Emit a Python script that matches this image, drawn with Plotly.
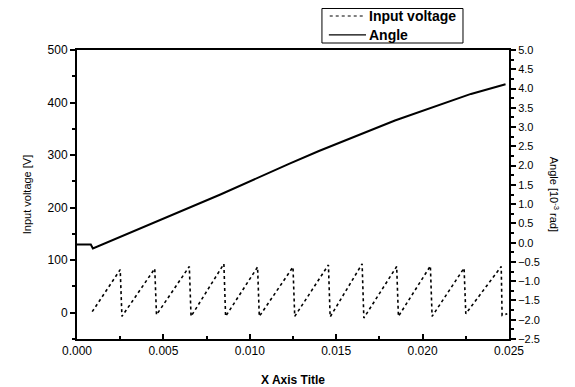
import plotly.graph_objects as go

# Input voltage (dotted sawtooth), left axis [V]
volt_t = [0.00088, 0.0025, 0.0026, 0.0045, 0.0046, 0.0065, 0.0066, 0.0085, 0.0086,
          0.01045, 0.01055, 0.0125, 0.0126, 0.01455, 0.01465, 0.0165, 0.0166,
          0.0185, 0.0186, 0.02045, 0.02055, 0.0224, 0.0225, 0.02455, 0.0246, 0.0249]
volt_v = [2, 82, -7, 84, -4, 88, -7, 93, -7,
          87, -7, 87, -7, 91, -8, 93, -10,
          88, -7, 89, -7, 85, -2, 88, -5, -2]

# Angle (solid), right axis [10^-3 rad]
ang_t = [0.0, 0.0008, 0.00092, 0.0054, 0.0083, 0.0123, 0.0140, 0.0184, 0.0228, 0.0248]
ang_v = [-0.05, -0.05, -0.15, 0.70, 1.25, 2.05, 2.38, 3.17, 3.86, 4.11]

series_names = ["Input voltage", "Angle"]

x_ticks = [0.000, 0.005, 0.010, 0.015, 0.020, 0.025]
x_labels = ["0.000", "0.005", "0.010", "0.015", "0.020", "0.025"]
yl_ticks = [0, 100, 200, 300, 400, 500]
yr_ticks = [-2.5, -2.0, -1.5, -1.0, -0.5, 0.0, 0.5, 1.0, 1.5, 2.0, 2.5, 3.0, 3.5, 4.0, 4.5, 5.0]

font = "Liberation Sans, Arial, sans-serif"

fig = go.Figure()
fig.add_trace(go.Scatter(x=volt_t, y=volt_v, mode="lines", name=series_names[0],
                         line=dict(color="black", width=1.6, dash="dot"), yaxis="y"))
fig.add_trace(go.Scatter(x=ang_t, y=ang_v, mode="lines", name=series_names[1],
                         line=dict(color="black", width=2), yaxis="y2"))

# legend drawn as a boxed key above the plot area (paper coordinates)
leg_shapes = [
    dict(type="rect", xref="paper", yref="paper", x0=0.567, x1=0.8935, y0=1.0242, y1=1.1436,
         line=dict(color="black", width=1), fillcolor="white"),
    dict(type="line", xref="paper", yref="paper", x0=0.585, x1=0.667, y0=1.1176, y1=1.1176,
         line=dict(color="black", width=1, dash="dot")),
    dict(type="line", xref="paper", yref="paper", x0=0.583, x1=0.669, y0=1.052, y1=1.052,
         line=dict(color="black", width=1.2)),
]
leg_annots = [
    dict(text="<b>%s</b>" % series_names[0], xref="paper", yref="paper", x=0.671, y=1.1176,
         xanchor="left", yanchor="middle", showarrow=False, font=dict(size=14)),
    dict(text="<b>%s</b>" % series_names[1], xref="paper", yref="paper", x=0.671, y=1.052,
         xanchor="left", yanchor="middle", showarrow=False, font=dict(size=14)),
]

fig.update_layout(
    width=567, height=379,
    margin=dict(l=69, r=66, t=42, b=48, autoexpand=False),
    paper_bgcolor="white", plot_bgcolor="white",
    font=dict(family=font, size=12, color="black"),
    showlegend=False,
    xaxis=dict(range=[0, 0.025], tickvals=x_ticks, ticktext=x_labels,
               showline=True, linecolor="black", linewidth=2, mirror=True,
               ticks="inside", ticklen=5, tickwidth=1.5, tickcolor="black",
               minor=dict(ticks="inside", ticklen=3, dtick=0.0025, tickcolor="black"),
               showgrid=False, zeroline=False, automargin=False,
               title=dict(text="<b>X Axis Title</b>", font=dict(size=12), standoff=20),
               tickfont=dict(size=12)),
    yaxis=dict(range=[-50, 500], tickvals=yl_ticks,
               showline=True, linecolor="black", linewidth=2,
               ticks="outside", ticklen=5, tickwidth=1.5, tickcolor="black",
               minor=dict(ticks="outside", ticklen=3, dtick=50, tickcolor="black"),
               showgrid=False, zeroline=False, automargin=False,
               title=dict(text="Input voltage [V]", font=dict(size=11), standoff=14),
               tickfont=dict(size=12)),
    yaxis2=dict(range=[-2.5, 5.0], tickvals=yr_ticks, tickformat=".1f",
                overlaying="y", side="right",
                showline=True, linecolor="black", linewidth=2,
                ticks="outside", ticklen=5, tickwidth=1.5, tickcolor="black",
                minor=dict(ticks="outside", ticklen=3, dtick=0.25, tickcolor="black"),
                showgrid=False, zeroline=False, automargin=False,
                tickfont=dict(size=11)),
    shapes=leg_shapes,
    annotations=[dict(text="Angle [10<sup>-3</sup> rad]", textangle=90,
                      xref="paper", yref="paper", x=1.106, y=0.5,
                      xanchor="center", yanchor="middle", showarrow=False,
                      font=dict(size=11))] + leg_annots,
)

fig.write_html("out.html")
